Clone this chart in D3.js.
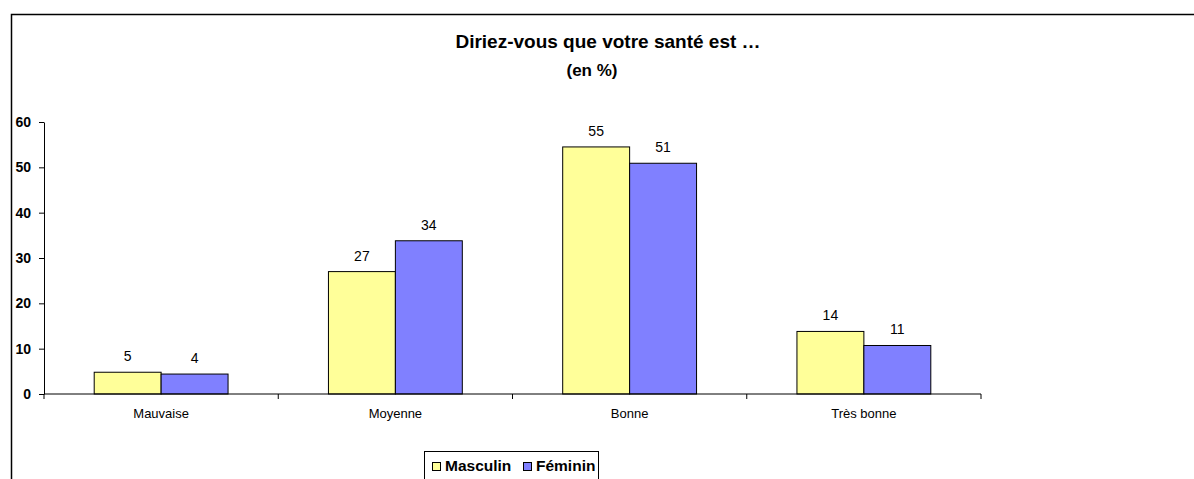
<!DOCTYPE html>
<html lang="fr">
<head>
    <meta charset="UTF-8">
    <title>Diriez-vous que votre santé est …</title>
    <script src="https://d3js.org/d3.v7.min.js"></script>
    <style>
        html, body { margin: 0; padding: 0; background: #fff; }
        svg { display: block; font-family: "Liberation Sans", Arial, sans-serif; }
    </style>
</head>
<body>
    <svg width="1194" height="479"></svg>

    <script>
        // données
        const categories = ["Mauvaise", "Moyenne", "Bonne", "Très bonne"];
        const series = ["Masculin", "Féminin"];
        const masculin = [4.8, 27.0, 54.5, 13.8];
        const feminin = [4.4, 33.8, 50.9, 10.7];
        const yTicks = [0, 10, 20, 30, 40, 50, 60];
        const colors = ["#FFFF99", "#8080FF"];

        const svg = d3.select("svg");

        // cadre du graphique
        svg.append("rect")
            .attr("x", 11.5).attr("y", 14.5)
            .attr("width", 1200).attr("height", 500)
            .attr("fill", "none")
            .attr("stroke", "#000")
            .attr("stroke-width", 1.5);

        // titre
        svg.append("text")
            .attr("x", 608).attr("y", 48)
            .attr("text-anchor", "middle")
            .attr("font-size", "19px").attr("font-weight", "bold")
            .text("Diriez-vous que votre santé est …");
        svg.append("text")
            .attr("x", 592).attr("y", 76)
            .attr("text-anchor", "middle")
            .attr("font-size", "17px").attr("font-weight", "bold")
            .text("(en %)");

        const x0 = d3.scaleBand()
            .domain(categories)
            .range([44, 981])
            .paddingInner(0).paddingOuter(0);

        // gap width 150% comme dans Excel
        const x1 = d3.scaleBand()
            .domain(series)
            .range([0, x0.bandwidth()])
            .paddingInner(0).paddingOuter(0.75);

        const y = d3.scaleLinear()
            .domain([0, 60])
            .range([394, 122]);

        // axe Y
        const yAxis = svg.append("g")
            .attr("transform", "translate(44,0)")
            .call(d3.axisLeft(y).tickValues(yTicks).tickSize(5).tickPadding(8).tickSizeOuter(0));
        yAxis.selectAll("text")
            .attr("font-size", "14px").attr("font-weight", "bold")
            .attr("fill", "#000")
            .attr("font-family", "Liberation Sans, Arial, sans-serif");
        yAxis.selectAll("line, path").attr("stroke", "#000");

        // barres
        const rows = categories.map((c, i) => ({ cat: c, values: [masculin[i], feminin[i]] }));
        const groups = svg.selectAll("g.cat")
            .data(rows)
            .enter().append("g")
            .attr("class", "cat")
            .attr("transform", d => `translate(${x0(d.cat)},0)`);

        groups.selectAll("rect")
            .data(d => d.values.map((v, j) => ({ s: series[j], v: v, j: j })))
            .enter().append("rect")
            .attr("x", d => x1(d.s))
            .attr("y", d => y(d.v))
            .attr("width", x1.bandwidth())
            .attr("height", d => y(0) - y(d.v))
            .attr("fill", d => colors[d.j])
            .attr("stroke", "#000")
            .attr("stroke-width", 1);

        groups.selectAll("text.val")
            .data(d => d.values.map((v, j) => ({ s: series[j], v: v, j: j })))
            .enter().append("text")
            .attr("class", "val")
            .attr("x", d => x1(d.s) + x1.bandwidth() / 2)
            .attr("y", d => y(d.v) - 11)
            .attr("text-anchor", "middle")
            .attr("font-size", "14px")
            .attr("fill", "#000")
            .text(d => Math.round(d.v));

        // axe X
        const xr = x0.range();
        svg.append("line")
            .attr("x1", xr[0]).attr("x2", xr[1])
            .attr("y1", y(0)).attr("y2", y(0))
            .attr("stroke", "#000");
        const bounds = categories.map(c => x0(c)).concat([xr[1]]);
        svg.selectAll("line.xtick")
            .data(bounds)
            .enter().append("line")
            .attr("class", "xtick")
            .attr("x1", d => d).attr("x2", d => d)
            .attr("y1", y(0)).attr("y2", y(0) + 5)
            .attr("stroke", "#000");
        svg.selectAll("text.cat")
            .data(categories)
            .enter().append("text")
            .attr("class", "cat")
            .attr("x", d => x0(d) + x0.bandwidth() / 2)
            .attr("y", 418)
            .attr("text-anchor", "middle")
            .attr("font-size", "13px")
            .text(d => d);

        // légende
        const legend = svg.append("g");
        legend.append("rect")
            .attr("x", 424.5).attr("y", 451.5)
            .attr("width", 174).attr("height", 40)
            .attr("fill", "#fff").attr("stroke", "#000");
        const legX = [432, 523];
        series.forEach((s, i) => {
            legend.append("rect")
                .attr("x", legX[i] + 0.5).attr("y", 462.5)
                .attr("width", 8).attr("height", 8)
                .attr("fill", colors[i]).attr("stroke", "#000");
            legend.append("text")
                .attr("x", legX[i] + 13).attr("y", 471)
                .attr("font-size", "15.5px").attr("font-weight", "bold")
                .text(s);
        });
    </script>
</body>
</html>
